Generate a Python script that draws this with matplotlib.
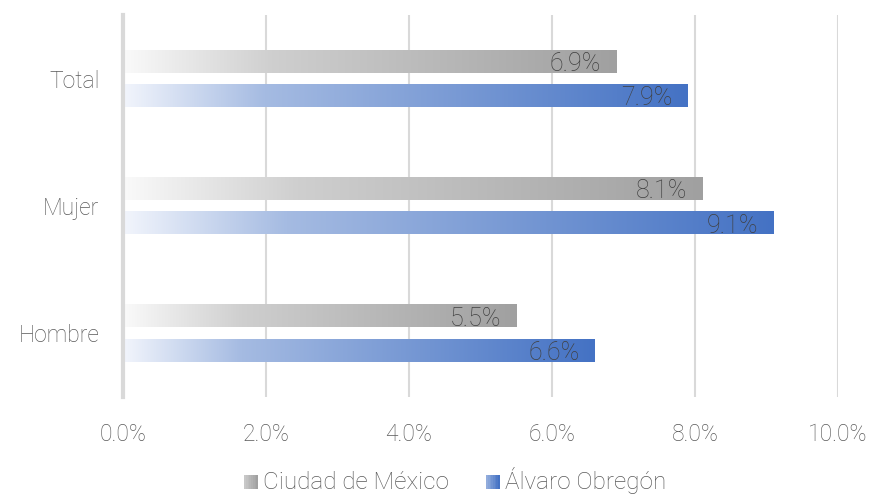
import numpy as np
import matplotlib.pyplot as plt
from matplotlib.colors import LinearSegmentedColormap
from matplotlib.patches import Rectangle
from matplotlib.legend_handler import HandlerBase

# Data
categories = ["Hombre", "Mujer", "Total"]
cdmx = [0.055, 0.081, 0.069]
alvaro = [0.066, 0.091, 0.079]
series_names = ["Ciudad de México", "Álvaro Obregón"]
xticks = [0.0, 0.02, 0.04, 0.06, 0.08, 0.10]

plt.rcParams['font.family'] = ['Roboto', 'DejaVu Sans']
plt.rcParams['font.weight'] = 'light'

gray_cmap = LinearSegmentedColormap.from_list(
    "g", [(0, "#fafafa"), (0.3, "#cfcfcf"), (1, "#a0a0a0")])
blue_cmap = LinearSegmentedColormap.from_list(
    "b", [(0, "#f2f5fc"), (0.25, "#a5bbe2"), (1, "#4472c4")])

fig = plt.figure(figsize=(8.73, 4.94), dpi=100)
ax = fig.add_axes([123 / 873, 1 - 397 / 494, (838 - 123) / 873, (397 - 15) / 494])

grad = np.linspace(0, 1, 256).reshape(1, -1)
h = 0.175
off = 0.135
y = np.arange(len(categories))

for i in range(len(categories)):
    for val, cmap, dy in [(cdmx[i], gray_cmap, off), (alvaro[i], blue_cmap, -off)]:
        yc = y[i] + dy
        ax.imshow(grad, cmap=cmap, aspect='auto', interpolation='bilinear',
                  extent=[0, val, yc - h / 2, yc + h / 2], zorder=2)
        ax.text(val - 0.0021, yc - 0.02, f"{val * 100:.1f}%", ha='right', va='center',
                fontsize=18, color='#404040', zorder=3)

ax.set_xlim(0, 0.10)
ax.set_ylim(-0.5, 2.5)
ax.set_xticks(xticks)
ax.set_xticklabels([f"{t * 100:.1f}%" for t in xticks])
ax.set_yticks(y)
ax.set_yticklabels(categories)
ax.grid(axis='x', color='#d9d9d9', linewidth=1.5, zorder=0)
ax.set_axisbelow(True)
for s in ['top', 'right', 'bottom']:
    ax.spines[s].set_visible(False)
ax.spines['left'].set_color('#d9d9d9')
ax.spines['left'].set_linewidth(3)
ax.tick_params(axis='both', length=0, labelsize=16.5, colors='#595959')
ax.tick_params(axis='x', pad=19)
ax.tick_params(axis='y', pad=17)
ax.set_aspect('auto')


class GradHandler(HandlerBase):
    def __init__(self, cmap):
        super().__init__()
        self.cmap = cmap

    def create_artists(self, legend, orig_handle, xdescent, ydescent, width, height, fontsize, trans):
        n = 8
        arts = []
        w = height * 0.8
        x0 = width - w
        for k in range(n):
            r = Rectangle((x0 + k * w / n - xdescent, -ydescent + height * 0.02), w / n + 0.3, w,
                          facecolor=self.cmap(0.4 + 0.6 * k / (n - 1)), edgecolor='none',
                          transform=trans)
            arts.append(r)
        return arts


h1 = Rectangle((0, 0), 1, 1)
h2 = Rectangle((0, 0), 1, 1)
fig.legend([h1, h2], series_names, loc='lower center', bbox_to_anchor=(0.518, -0.045),
           ncol=2, frameon=False, fontsize=17.5, labelcolor='#595959',
           handler_map={h1: GradHandler(gray_cmap), h2: GradHandler(blue_cmap)},
           handlelength=0.8, handletextpad=0.2, columnspacing=1.3)

fig.savefig("out.png", dpi=100)
